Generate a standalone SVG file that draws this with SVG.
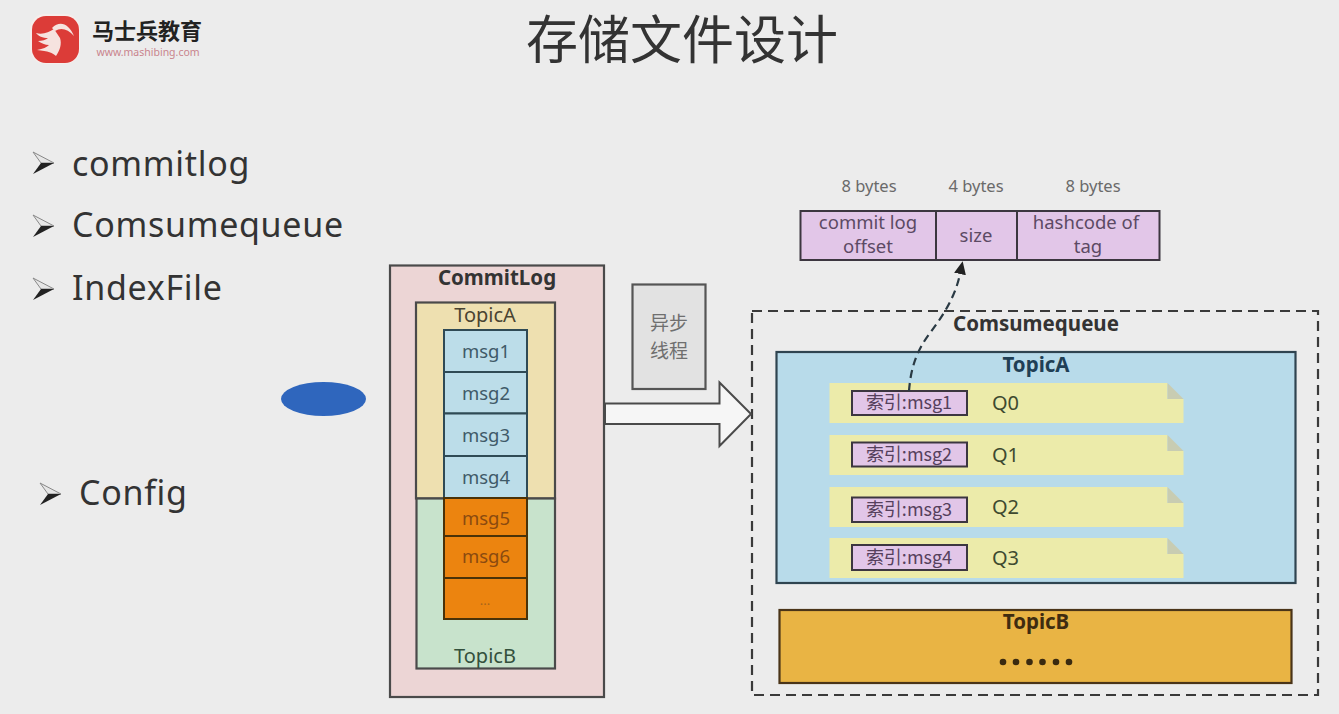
<svg xmlns="http://www.w3.org/2000/svg" width="1339" height="714" viewBox="0 0 1339 714">
<style>
text{font-family:"Noto Sans","Noto Sans CJK SC",sans-serif;fill:#3c3c3c;text-anchor:middle}
.cjk{font-family:"Noto Sans CJK SC",sans-serif}
.bullet{font-size:34px;fill:#333;text-anchor:start;letter-spacing:.7px}
.head{font-size:20.500px;font-weight:700;fill:#333}
.msg{font-size:18.500px;fill:#3f5a68;stroke:none}
.box{stroke:#4a4a4a;stroke-width:2.200}
.bl{fill:#bcdde9;stroke:#2f4a55;stroke-width:2}
.or{fill:#ec840f;stroke:#4a3208;stroke-width:2}
.pu{fill:#e2c6e8;stroke:#3c3640;stroke-width:2}
.note{fill:#ecebaa}
.fold{fill:#c8ccb2}
.idx{font-size:18px;fill:#55405c}
.q{font-size:20px;fill:#3e4a30;text-anchor:start}
.by{font-size:16.500px;fill:#6a6a6a}
.cell{font-size:18.500px;fill:#5c4a64}
</style>
<defs>
<marker id="tip" markerWidth="13" markerHeight="12" refX="0" refY="6" orient="auto" markerUnits="userSpaceOnUse" viewBox="0 0 13 12"><path d="M13 6L0 12V0Z" fill="#222"/></marker>
<g id="tick">
<path d="M0 0L21 11H8Z" fill="#e6e6e6" stroke="#888" stroke-width="1"/>
<path d="M21 11L0 22L8 11Z" fill="#222"/>
</g>
<path id="note" d="M0 0H338V16H354V40H0Z"/>
</defs>
<rect width="1339" height="714" fill="#ececec"/>

<g id="logo">
<rect x="30" y="14" width="50" height="50" rx="15" fill="#f6eeec"/>
<rect x="32" y="16" width="47" height="47" rx="14" fill="#dc3c38"/>
<path d="M36 33C43 35 49 32 54 29L60 38C62 44 60 50 56 56C53 53 48 51 37 50C43 49 47 47 49 45C45 45 41 43 38 41C42 41 46 40 48 38C43 38 38 36 36 33Z" fill="#f6e3df"/>
<path d="M52 28C60 20 69 24 74 36C68 29 61 27 55 31Z" fill="#f6e3df"/>
<text x="147" y="39" class="cjk" style="font-size:22px;font-weight:700;fill:#222">马士兵教育</text>
<text x="148" y="56" style="font-size:10.500px;fill:#c9848c">www.mashibing.com</text>
</g>

<text x="682" y="59" class="cjk" style="font-size:52px;font-weight:400;fill:#333">存储文件设计</text>

<g id="outline">
<use href="#tick" x="33" y="152"/><text x="72" y="176" class="bullet">commitlog</text>
<use href="#tick" x="33" y="215"/><text x="72" y="237" class="bullet">Comsumequeue</text>
<use href="#tick" x="33" y="278"/><text x="72" y="300" class="bullet">IndexFile</text>
<use href="#tick" x="40" y="483"/><text x="79" y="505" class="bullet">Config</text>
</g>

<ellipse id="marker-oval" cx="323.500" cy="399" rx="42.500" ry="17" fill="#2f66bd"/>

<g id="commitlog">
<rect x="390" y="265.500" width="214" height="431.500" fill="#ecd5d5" class="box"/>
<text x="497" y="285" class="head">CommitLog</text>
</g>
<g id="commitlog-topica">
<rect x="416" y="302.500" width="139" height="196" fill="#eee0b0" class="box"/>
<text x="485" y="322" style="font-size:20px;fill:#4a4432">TopicA</text>
</g>
<g id="commitlog-topicb">
<rect x="416.500" y="498.500" width="138.500" height="170" fill="#c8e3cc" class="box"/>
<text x="485" y="663" style="font-size:20px;fill:#33503c">TopicB</text>
</g>
<g id="msg1"><rect x="444" y="330" width="83" height="42" class="bl"/><text x="486" y="358" class="msg">msg1</text></g>
<g id="msg2"><rect x="444" y="372" width="83" height="41.500" class="bl"/><text x="486" y="400" class="msg">msg2</text></g>
<g id="msg3"><rect x="444" y="413.500" width="83" height="42.500" class="bl"/><text x="486" y="442" class="msg">msg3</text></g>
<g id="msg4"><rect x="444" y="456" width="83" height="42" class="bl"/><text x="486" y="484" class="msg">msg4</text></g>
<g id="msg5"><rect x="444" y="498" width="83" height="38" class="or"/><text x="486" y="525" class="msg" style="fill:#8a4a10">msg5</text></g>
<g id="msg6"><rect x="444" y="536" width="83" height="42" class="or"/><text x="486" y="563" class="msg" style="fill:#8a4a10">msg6</text></g>
<g id="msg-more"><rect x="444" y="578" width="83" height="41" class="or"/><text x="485" y="605" style="font-size:13px;fill:#a8641c">...</text></g>

<g id="async-thread">
<rect x="632.500" y="284.500" width="73" height="104.500" fill="#e2e2e2" stroke="#555" stroke-width="2.200"/>
<text x="669" y="330" class="cjk" style="font-size:19px;fill:#6f6f6f">异步</text>
<text x="669" y="357.500" class="cjk" style="font-size:19px;fill:#6f6f6f">线程</text>
</g>

<g id="comsumequeue">
<rect x="752" y="311" width="566" height="384" fill="none" stroke="#3a3a3a" stroke-width="2.200" stroke-dasharray="10 6"/>
<text x="1036" y="331" style="font-size:20.500px;font-weight:700;fill:#333">Comsumequeue</text>
</g>
<g id="queue-topica">
<rect x="776.500" y="352" width="519" height="231" fill="#b8dbea" stroke="#2f4450" stroke-width="2.200"/>
<text x="1036" y="372" style="font-size:20.500px;font-weight:700;fill:#1f3f55">TopicA</text>
</g>
<g id="q0">
<use href="#note" x="829.500" y="383" class="note"/><path d="M1167.500 383L1183.500 399H1167.500Z" class="fold"/>
<rect x="852" y="391" width="115" height="24" class="pu"/>
<text x="909" y="409" class="idx cjk">索引:msg1</text><text x="992" y="410" class="q">Q0</text>
</g>
<g id="q1">
<use href="#note" x="829.500" y="435" class="note"/><path d="M1167.500 435L1183.500 451H1167.500Z" class="fold"/>
<rect x="852" y="442.500" width="115" height="24" class="pu"/>
<text x="909" y="461" class="idx cjk">索引:msg2</text><text x="992" y="462" class="q">Q1</text>
</g>
<g id="q2">
<use href="#note" x="829.500" y="487" class="note"/><path d="M1167.500 487L1183.500 503H1167.500Z" class="fold"/>
<rect x="852" y="497.500" width="115" height="24.500" class="pu"/>
<text x="909" y="516" class="idx cjk">索引:msg3</text><text x="992" y="514" class="q">Q2</text>
</g>
<g id="q3">
<use href="#note" x="829.500" y="538" class="note"/><path d="M1167.500 538L1183.500 554H1167.500Z" class="fold"/>
<rect x="852" y="545" width="115" height="25" class="pu"/>
<text x="909" y="564" class="idx cjk">索引:msg4</text><text x="992" y="565" class="q">Q3</text>
</g>
<g id="queue-topicb">
<rect x="779.500" y="610" width="512" height="73" fill="#e9b444" stroke="#4a3418" stroke-width="2.200"/>
<text x="1036" y="629" style="font-size:20.500px;font-weight:700;fill:#3f2c10">TopicB</text>
<g fill="#3a2a10"><circle cx="1003" cy="662" r="3.300"/><circle cx="1016" cy="662" r="3.300"/><circle cx="1029.500" cy="662" r="3.300"/><circle cx="1042.500" cy="662" r="3.300"/><circle cx="1056" cy="662" r="3.300"/><circle cx="1069" cy="662" r="3.300"/></g>
</g>

<g id="entry-format">
<text x="869" y="192" class="by">8 bytes</text><text x="976" y="192" class="by">4 bytes</text><text x="1093" y="192" class="by">8 bytes</text>
<rect x="800.500" y="211" width="135.500" height="49" class="pu"/>
<rect x="936" y="211" width="81" height="49" class="pu"/>
<rect x="1017" y="211" width="142.500" height="49" class="pu"/>
<text x="868" y="229" class="cell">commit log</text><text x="868" y="252.500" class="cell">offset</text>
<text x="976" y="242" class="cell">size</text>
<text x="1086" y="229" class="cell">hashcode of</text><text x="1088" y="252.500" class="cell">tag</text>
</g>

<g id="connectors" fill="none">
<path id="sync-arrow" d="M605 403.500H719.500V382.500L751 414L719.500 446V424H605Z" fill="#f6f6f6" stroke="#4a4a4a" stroke-width="2"/>
<path id="index-to-size" d="M909 391C911 365 918 349 930 333S955 298 960 274" stroke="#2a3a44" stroke-width="2.200" stroke-dasharray="8 5" marker-end="url(#tip)"/>
</g>
</svg>
